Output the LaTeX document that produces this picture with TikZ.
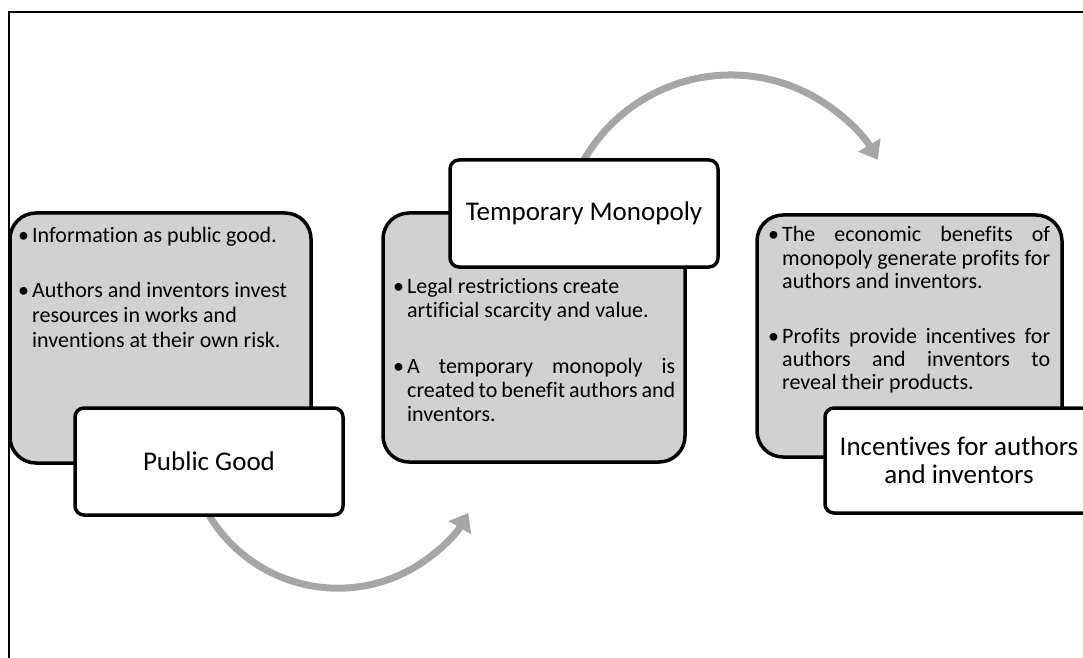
\documentclass[tikz,border=0pt]{standalone}
\usepackage{fontspec}
\setmainfont{Carlito}[Ligatures={NoCommon}]
\usetikzlibrary{arrows.meta}
\definecolor{boxgray}{HTML}{D1D1D1}
\definecolor{arrowgray}{HTML}{A6A6A6}
\newlength{\bw}
\setlength{\bw}{268pt}
\newcommand{\jl}[1]{\makebox[\linewidth][s]{#1}}
\newcommand{\bitem}[1]{\makebox[14pt][l]{\textbullet}\parbox[t]{\bw}{#1}}
\tikzset{
  graybox/.style={draw=black, line width=3.5pt, fill=boxgray, rounded corners=26pt},
  whitebox/.style={draw=black, line width=3.5pt, fill=white, rounded corners=9pt},
  bodytext/.style={anchor=base west, inner sep=0pt, font=\fontsize{22}{25}\selectfont},
  titletext/.style={align=center, inner sep=0pt, font=\fontsize{27}{28}\selectfont},
  cyclearrow/.style={draw=arrowgray, line width=7pt, -{Triangle[length=17pt,width=25pt]}}
}
\begin{document}
\begin{tikzpicture}[x=1pt,y=1pt]
\useasboundingbox (0,0) rectangle (1083,657);
% frame
\draw[line width=2pt] (9,-5) -- (9,645) -- (1090,645);
% white label boxes (positions)
\path (75,142) coordinate (pgSW) (343,249) coordinate (pgNE);
\path (450,390) coordinate (tmSW) (718,497) coordinate (tmNE);
\path (825,144) coordinate (icSW) (1093,249) coordinate (icNE);
\node[inner sep=0pt, minimum width=268pt, minimum height=107pt] (pg) at (209,195.5) {};
\node[inner sep=0pt, minimum width=268pt, minimum height=107pt] (tm) at (584,443.5) {};
\node[inner sep=0pt, minimum width=268pt, minimum height=105pt] (ic) at (959,196.5) {};
% arrows (behind boxes)
\draw[cyclearrow] (pg.south) arc[start angle=211, end angle=330, radius=150.5];
\draw[cyclearrow] (tm.north) arc[start angle=150, end angle=30, radius=169.6];
% gray boxes
\draw[graybox] (10,194) rectangle (311,444);
\draw[graybox] (383,195) rectangle (685,444);
\draw[graybox] (757,200) rectangle (1062,442);
% white boxes
\draw[whitebox] (pgSW) rectangle (pgNE);
\draw[whitebox] (tmSW) rectangle (tmNE);
\draw[whitebox] (icSW) rectangle (icNE);
% titles
\node[titletext] (pgt) at (pg.center) {Public Good};
\node[titletext] (tmt) at (tm.center) {Temporary Monopoly};
\node[titletext] (ict) at (ic.center) {Incentives for authors\\and inventors};
% body texts
\node[bodytext] (a1) at (18,414) {\bitem{Information as public good.}};
\node[bodytext] (a2) at (18,360) {\bitem{Authors and inventors invest\\resources in works and\\inventions at their own risk.}};
\node[bodytext, font=\fontsize{22}{24}\selectfont] (b1) at (393,364) {\bitem{Legal restrictions create\\artificial scarcity and value.}};
\node[bodytext, font=\fontsize{22}{24}\selectfont] (b2) at (393,284) {\bitem{\jl{A temporary monopoly is}\\\jl{created to benefit authors and}\\inventors.}};
\node[bodytext, font=\fontsize{22}{23}\selectfont] (c1) at (768,415) {\bitem{\jl{The economic benefits of}\\\jl{monopoly generate profits for}\\authors and inventors.}};
\node[bodytext, font=\fontsize{22}{23}\selectfont] (c2) at (768,314) {\bitem{\jl{Profits provide incentives for}\\\jl{authors and inventors to}\\reveal their products.}};
\end{tikzpicture}
\end{document}
